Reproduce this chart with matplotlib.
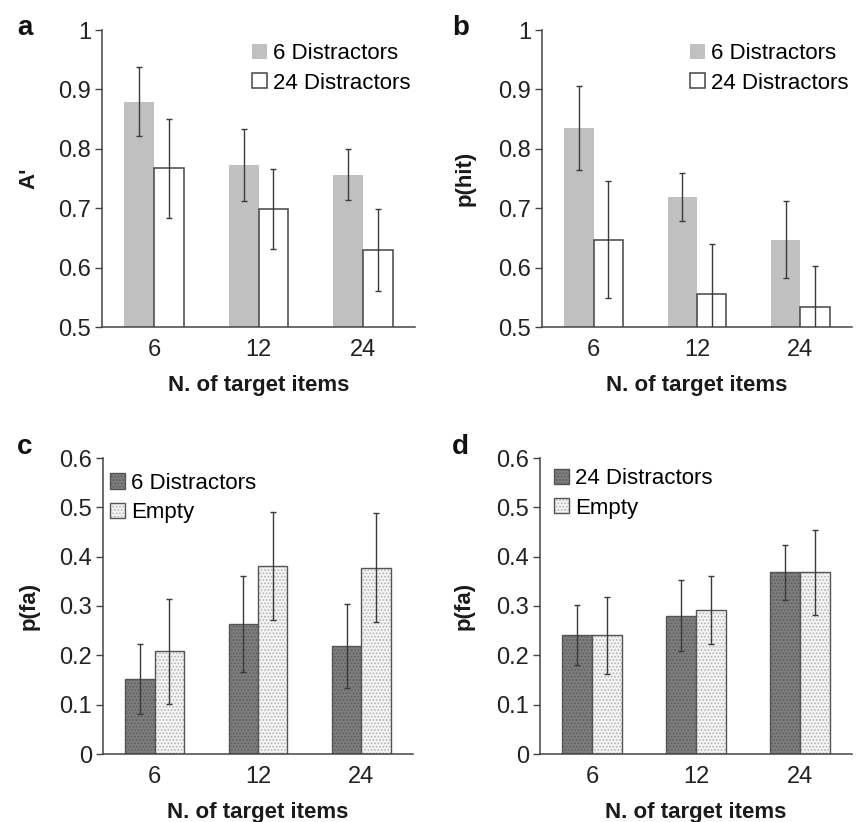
import matplotlib
matplotlib.use("Agg")
import matplotlib.pyplot as plt
import numpy as np
from matplotlib.patches import Patch
from matplotlib.legend_handler import HandlerTuple

plt.rcParams['font.family'] = ['Liberation Sans', 'DejaVu Sans']
plt.rcParams['hatch.linewidth'] = 0.8

categories = ["6", "12", "24"]
xlabel = "N. of target items"

# Panel a: A'
a_6d = [0.879, 0.773, 0.756]
a_6d_err = [0.058, 0.061, 0.043]
a_24d = [0.767, 0.699, 0.630]
a_24d_err = [0.083, 0.067, 0.069]

# Panel b: p(hit)
b_6d = [0.835, 0.719, 0.647]
b_6d_err = [0.070, 0.041, 0.065]
b_24d = [0.647, 0.556, 0.533]
b_24d_err = [0.099, 0.083, 0.070]

# Panel c: p(fa)
c_6d = [0.152, 0.264, 0.219]
c_6d_err = [0.070, 0.097, 0.085]
c_empty = [0.208, 0.381, 0.378]
c_empty_err = [0.106, 0.109, 0.110]

# Panel d: p(fa)
d_24d = [0.241, 0.280, 0.368]
d_24d_err = [0.061, 0.072, 0.055]
d_empty = [0.241, 0.292, 0.368]
d_empty_err = [0.078, 0.069, 0.086]

ticks_ab = [0.5, 0.6, 0.7, 0.8, 0.9, 1.0]
ticklabels_ab = ["0.5", "0.6", "0.7", "0.8", "0.9", "1"]
ticks_cd = [0, 0.1, 0.2, 0.3, 0.4, 0.5, 0.6]
ticklabels_cd = ["0", "0.1", "0.2", "0.3", "0.4", "0.5", "0.6"]

W, H = 864, 822
fig = plt.figure(figsize=(W / 100, H / 100), dpi=100)

def axes_px(l, r, t, b):
    return fig.add_axes([l / W, 1 - b / H, (r - l) / W, (b - t) / H])

ax_a = axes_px(102, 415, 30, 327)
ax_b = axes_px(542, 852, 30, 327)
ax_c = axes_px(103, 413, 458, 754)
ax_d = axes_px(540, 852, 458, 754)

x = np.arange(len(categories))
bw = 0.285
spine_c = '#444444'
err_c = '#3a3a3a'
tick_fs = 17
lab_fs = 16
leg_fs = 16

def style(ax, ticks, labels, ylim, ylabel, ylab_x):
    ax.set_xlim(-0.5, 2.5)
    ax.set_ylim(*ylim)
    for s in ['top', 'right']:
        ax.spines[s].set_visible(False)
    for s in ['left', 'bottom']:
        ax.spines[s].set_color(spine_c)
        ax.spines[s].set_linewidth(1.1)
    ax.set_yticks(ticks)
    ax.set_yticklabels(labels)
    ax.set_xticks(x)
    ax.set_xticklabels(categories)
    ax.tick_params(axis='y', length=5, width=1, color=spine_c, pad=3, labelsize=tick_fs, labelcolor='#222222')
    ax.tick_params(axis='x', length=0, pad=8.5, labelsize=tick_fs, labelcolor='#222222')
    ax.set_xlabel(xlabel, fontsize=lab_fs, fontweight='bold', labelpad=10.5, color='#1a1a1a')
    ax.set_ylabel(ylabel, fontsize=lab_fs, fontweight='bold', color='#1a1a1a')
    ax.yaxis.set_label_coords(ylab_x, 0.5)

leg_kw = dict(loc='upper left', frameon=False, fontsize=leg_fs, borderpad=0,
              borderaxespad=0, handlelength=0.68, handleheight=0.68,
              handletextpad=0.25, labelspacing=0.38)

def plain_panel(ax, v1, e1, v2, e2, legend_xy):
    ax.bar(x - bw / 2, v1, bw, color='#c0c0c0', linewidth=0, zorder=2)
    ax.bar(x + bw / 2, v2, bw, color='white', edgecolor=spine_c, linewidth=1.1, zorder=2)
    ax.errorbar(x - bw / 2, v1, yerr=e1, fmt='none', ecolor=err_c, elinewidth=1, capsize=2.5, capthick=1, zorder=3)
    ax.errorbar(x + bw / 2, v2, yerr=e2, fmt='none', ecolor=err_c, elinewidth=1, capsize=2.5, capthick=1, zorder=3)
    h1 = Patch(facecolor='#c0c0c0', linewidth=0)
    h2 = Patch(facecolor='white', edgecolor=spine_c, linewidth=1.1)
    ax.legend([h1, h2], ["6 Distractors", "24 Distractors"], bbox_to_anchor=legend_xy, **leg_kw)

dark_face, dark_dot = '#7d7d7d', '#5e5e5e'
light_face, light_dot = '#f3f3f3', '#b5b5b5'

def hatched_panel(ax, v1, e1, v2, e2, lab1, legend_xy):
    ax.bar(x - bw / 2, v1, bw, color=dark_face, edgecolor=dark_dot, hatch='.....', linewidth=0, zorder=2)
    ax.bar(x - bw / 2, v1, bw, fill=False, edgecolor='#555555', linewidth=1.0, zorder=2)
    ax.bar(x + bw / 2, v2, bw, color=light_face, edgecolor=light_dot, hatch='.....', linewidth=0, zorder=2)
    ax.bar(x + bw / 2, v2, bw, fill=False, edgecolor='#555555', linewidth=1.0, zorder=2)
    ax.errorbar(x - bw / 2, v1, yerr=e1, fmt='none', ecolor=err_c, elinewidth=1, capsize=2.5, capthick=1, zorder=3)
    ax.errorbar(x + bw / 2, v2, yerr=e2, fmt='none', ecolor=err_c, elinewidth=1, capsize=2.5, capthick=1, zorder=3)
    h1 = (Patch(facecolor=dark_face, edgecolor=dark_dot, hatch='.....', linewidth=0),
          Patch(fill=False, edgecolor='#555555', linewidth=1.0))
    h2 = (Patch(facecolor=light_face, edgecolor=light_dot, hatch='.....', linewidth=0),
          Patch(fill=False, edgecolor='#555555', linewidth=1.0))
    ax.legend([h1, h2], [lab1, "Empty"], bbox_to_anchor=legend_xy,
              handler_map={tuple: HandlerTuple(ndivide=1)}, **leg_kw)

plain_panel(ax_a, a_6d, a_6d_err, a_24d, a_24d_err, (0.479, 0.956))
style(ax_a, ticks_ab, ticklabels_ab, (0.5, 1.0), "A'", -0.20)
plain_panel(ax_b, b_6d, b_6d_err, b_24d, b_24d_err, (0.477, 0.956))
style(ax_b, ticks_ab, ticklabels_ab, (0.5, 1.0), "p(hit)", -0.215)
hatched_panel(ax_c, c_6d, c_6d_err, c_empty, c_empty_err, "6 Distractors", (0.023, 0.95))
style(ax_c, ticks_cd, ticklabels_cd, (0, 0.6), "p(fa)", -0.205)
hatched_panel(ax_d, d_24d, d_24d_err, d_empty, d_empty_err, "24 Distractors", (0.045, 0.966))
style(ax_d, ticks_cd, ticklabels_cd, (0, 0.6), "p(fa)", -0.21)

for letter, px, py in [("a", 17, 35), ("b", 452, 35), ("c", 17, 454), ("d", 452, 454)]:
    fig.text(px / W, 1 - py / H, letter, fontsize=20, fontweight='bold', va='baseline', ha='left', color='#111111')

fig.savefig("out.png", dpi=100)
